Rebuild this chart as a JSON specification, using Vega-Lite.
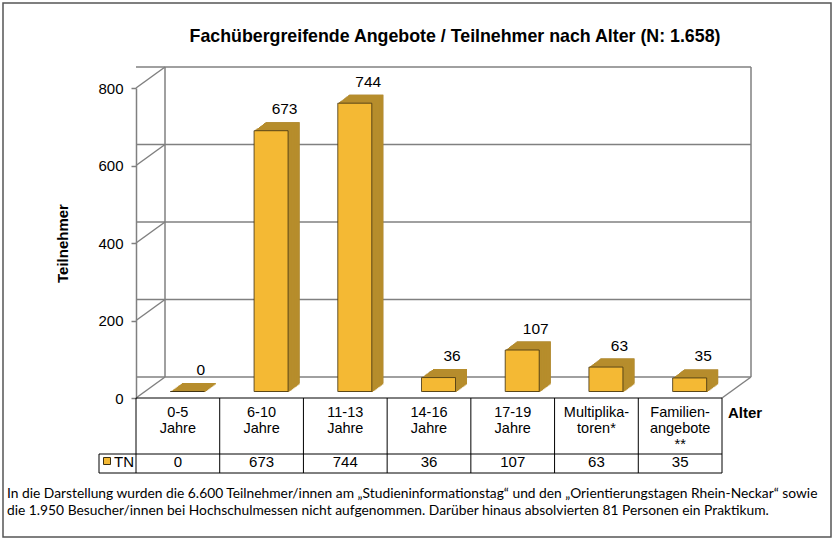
{
  "$schema": "https://vega.github.io/schema/vega-lite/v6.json",
  "width": 586,
  "height": 310,
  "autosize": {"type": "none"},
  "padding": {"left": 136, "top": 88, "right": 112, "bottom": 142},
  "background": "white",
  "config": {"view": {"stroke": null}, "font": "Liberation Sans"},
  "resolve": {"scale": {"x": "independent"}},
  "layer": [
    {
      "data": {"values": [{"deko": 1}]},
      "layer": [
        {
          "mark": {"type": "rect", "fill": null, "stroke": "#555555", "strokeWidth": 1.5, "xOffset": -133, "x2Offset": 109, "yOffset": -85, "y2Offset": 139},
          "encoding": {
            "x": {"datum": 0, "type": "quantitative", "scale": {"domain": [0, 7], "nice": false, "zero": false}, "axis": null},
            "x2": {"datum": 7},
            "y": {"datum": 800, "type": "quantitative"},
            "y2": {"datum": 0}
          }
        },
        {
          "mark": {"type": "text", "text": "Fachübergreifende Angebote / Teilnehmer nach Alter (N: 1.658)", "align": "center", "baseline": "middle", "fontSize": 17.8, "fontWeight": "bold", "color": "black", "xOffset": 26, "yOffset": -51},
          "encoding": {
            "x": {"datum": 3.5, "type": "quantitative"},
            "y": {"datum": 800, "type": "quantitative"}
          }
        },
        {
          "data": {"values": [{"v": 0}, {"v": 200}, {"v": 400}, {"v": 600}, {"v": 800}]},
          "mark": {"type": "rule", "color": "#808080", "strokeWidth": 1.5, "xOffset": 29, "x2Offset": 29, "yOffset": -21},
          "encoding": {"y": {"field": "v", "type": "quantitative", "title": "Teilnehmer"}}
        },
        {
          "data": {"values": [{"v": 0}, {"v": 200}, {"v": 400}, {"v": 600}, {"v": 800}]},
          "mark": {"type": "rule", "color": "#808080", "strokeWidth": 1.5, "x2Offset": 29, "y2Offset": -21},
          "encoding": {
            "x": {"datum": 0, "type": "quantitative"},
            "x2": {"datum": 0},
            "y": {"field": "v", "type": "quantitative", "title": "Teilnehmer"},
            "y2": {"field": "v"}
          }
        },
        {
          "mark": {"type": "rule", "color": "#808080", "strokeWidth": 1.5, "xOffset": 29, "yOffset": -21, "y2Offset": -21},
          "encoding": {
            "x": {"datum": 0, "type": "quantitative"},
            "y": {"datum": 0, "type": "quantitative"},
            "y2": {"datum": 800}
          }
        },
        {
          "mark": {"type": "rule", "color": "#808080", "strokeWidth": 1.5, "xOffset": 29, "yOffset": -21, "y2Offset": -21},
          "encoding": {
            "x": {"datum": 7, "type": "quantitative"},
            "y": {"datum": 0, "type": "quantitative"},
            "y2": {"datum": 800}
          }
        },
        {
          "mark": {"type": "rule", "color": "#808080", "strokeWidth": 1.5, "x2Offset": 29, "y2Offset": -21},
          "encoding": {
            "x": {"datum": 7, "type": "quantitative"},
            "x2": {"datum": 7},
            "y": {"datum": 0, "type": "quantitative"},
            "y2": {"datum": 0}
          }
        },
        {
          "mark": {"type": "rule", "color": "black", "strokeWidth": 1},
          "encoding": {"y": {"datum": 0, "type": "quantitative"}}
        },
        {
          "mark": {"type": "rule", "color": "black", "strokeWidth": 1, "xOffset": -37, "yOffset": 56},
          "encoding": {
            "x": {"datum": 0, "type": "quantitative"},
            "x2": {"datum": 7},
            "y": {"datum": 0, "type": "quantitative"}
          }
        },
        {
          "mark": {"type": "rule", "color": "black", "strokeWidth": 1, "xOffset": -37, "yOffset": 75},
          "encoding": {
            "x": {"datum": 0, "type": "quantitative"},
            "x2": {"datum": 7},
            "y": {"datum": 0, "type": "quantitative"}
          }
        },
        {
          "mark": {"type": "rule", "color": "black", "strokeWidth": 1, "xOffset": -37, "yOffset": 56, "y2Offset": 75},
          "encoding": {
            "x": {"datum": 0, "type": "quantitative"},
            "y": {"datum": 0, "type": "quantitative"},
            "y2": {"datum": 0}
          }
        },
        {
          "mark": {"type": "rule", "color": "black", "strokeWidth": 1, "y2Offset": 75},
          "encoding": {
            "x": {"datum": 7, "type": "quantitative"},
            "y": {"datum": 0, "type": "quantitative"},
            "y2": {"datum": 0}
          }
        },
        {
          "mark": {"type": "square", "size": 49, "filled": true, "fill": "#F4B934", "stroke": "#3d3010", "strokeWidth": 1, "opacity": 1, "xOffset": -29, "yOffset": 63},
          "encoding": {
            "x": {"datum": 0, "type": "quantitative"},
            "y": {"datum": 0, "type": "quantitative"}
          }
        },
        {
          "mark": {"type": "text", "text": "TN", "align": "left", "baseline": "middle", "fontSize": 15, "color": "black", "xOffset": -22, "yOffset": 64},
          "encoding": {
            "x": {"datum": 0, "type": "quantitative"},
            "y": {"datum": 0, "type": "quantitative"}
          }
        },
        {
          "mark": {"type": "text", "text": "Alter", "align": "left", "baseline": "middle", "fontSize": 15, "fontWeight": "bold", "color": "black", "xOffset": 6, "yOffset": 15},
          "encoding": {
            "x": {"datum": 7, "type": "quantitative"},
            "y": {"datum": 0, "type": "quantitative"}
          }
        },
        {
          "mark": {"type": "text", "text": "In die Darstellung wurden die 6.600 Teilnehmer/innen am „Studieninformationstag“ und den „Orientierungstagen Rhein-Neckar“ sowie\ndie 1.950 Besucher/innen bei Hochschulmessen nicht aufgenommen.  Darüber hinaus absolvierten 81 Personen ein Praktikum.", "lineBreak": "\n", "lineHeight": 17, "align": "left", "baseline": "top", "font": "Lato", "fontSize": 13.8, "color": "black", "xOffset": -129, "yOffset": 89},
          "encoding": {
            "x": {"datum": 0, "type": "quantitative"},
            "y": {"datum": 0, "type": "quantitative"}
          }
        }
      ]
    },
    {
      "data": {"values": [
        {"cat": "0-5\nJahre", "tn": 0},
        {"cat": "6-10\nJahre", "tn": 673},
        {"cat": "11-13\nJahre", "tn": 744},
        {"cat": "14-16\nJahre", "tn": 36},
        {"cat": "17-19\nJahre", "tn": 107},
        {"cat": "Multiplika-\ntoren*", "tn": 63},
        {"cat": "Familien-\nangebote\n**", "tn": 35}
      ]},
      "encoding": {
        "x": {"field": "cat", "type": "nominal", "sort": null, "scale": {"paddingInner": 0, "paddingOuter": 0}, "axis": null},
        "y": {"field": "tn", "type": "quantitative", "scale": {"domain": [0, 800], "nice": false},
          "axis": {"values": [0, 200, 400, 600, 800], "grid": false, "domainColor": "#808080", "domainWidth": 1.5, "tickColor": "#808080", "tickWidth": 1.5, "tickSize": 5, "labelFontSize": 15, "labelColor": "black", "labelFont": "Liberation Sans", "labelPadding": 8, "title": "Teilnehmer", "titleFont": "Liberation Sans", "titleFontSize": 15, "titleFontWeight": "bold", "titleColor": "black", "titlePadding": 27}},
        "y2": {"datum": 0}
      },
      "layer": [
        {"mark": {"type": "bar", "width": 34, "color": "#9A7524", "xOffset": 21, "yOffset": -15, "y2Offset": -15}},
        {"mark": {"type": "bar", "width": 34, "color": "#9A7524", "xOffset": 19.7, "yOffset": -14.1, "y2Offset": -14.1}},
        {"mark": {"type": "bar", "width": 34, "color": "#9A7524", "xOffset": 18.4, "yOffset": -13.1, "y2Offset": -13.1}},
        {"mark": {"type": "bar", "width": 34, "color": "#9A7524", "xOffset": 17.2, "yOffset": -12.2, "y2Offset": -12.2}},
        {"mark": {"type": "bar", "width": 34, "color": "#9A7524", "xOffset": 15.9, "yOffset": -11.2, "y2Offset": -11.2}},
        {"mark": {"type": "bar", "width": 34, "color": "#9A7524", "xOffset": 14.6, "yOffset": -10.3, "y2Offset": -10.3}},
        {"mark": {"type": "bar", "width": 34, "color": "#9A7524", "xOffset": 13.3, "yOffset": -9.3, "y2Offset": -9.3}},
        {"mark": {"type": "bar", "width": 34, "color": "#9A7524", "xOffset": 12.1, "yOffset": -8.4, "y2Offset": -8.4}},
        {"mark": {"type": "bar", "width": 34, "color": "#9A7524", "xOffset": 10.8, "yOffset": -7.4, "y2Offset": -7.4}},
        {"mark": {"type": "bar", "width": 34, "color": "#B68D2C", "xOffset": 21, "yOffset": -15, "y2Offset": -13.5}, "encoding": {"y2": {"field": "tn"}}},
        {"mark": {"type": "bar", "width": 34, "color": "#B68D2C", "xOffset": 19.7, "yOffset": -14.1, "y2Offset": -12.6}, "encoding": {"y2": {"field": "tn"}}},
        {"mark": {"type": "bar", "width": 34, "color": "#B68D2C", "xOffset": 18.4, "yOffset": -13.1, "y2Offset": -11.6}, "encoding": {"y2": {"field": "tn"}}},
        {"mark": {"type": "bar", "width": 34, "color": "#B68D2C", "xOffset": 17.2, "yOffset": -12.2, "y2Offset": -10.7}, "encoding": {"y2": {"field": "tn"}}},
        {"mark": {"type": "bar", "width": 34, "color": "#B68D2C", "xOffset": 15.9, "yOffset": -11.2, "y2Offset": -9.7}, "encoding": {"y2": {"field": "tn"}}},
        {"mark": {"type": "bar", "width": 34, "color": "#B68D2C", "xOffset": 14.6, "yOffset": -10.3, "y2Offset": -8.8}, "encoding": {"y2": {"field": "tn"}}},
        {"mark": {"type": "bar", "width": 34, "color": "#B68D2C", "xOffset": 13.3, "yOffset": -9.3, "y2Offset": -7.8}, "encoding": {"y2": {"field": "tn"}}},
        {"mark": {"type": "bar", "width": 34, "color": "#B68D2C", "xOffset": 12.1, "yOffset": -8.4, "y2Offset": -6.9}, "encoding": {"y2": {"field": "tn"}}},
        {"mark": {"type": "bar", "width": 34, "color": "#B68D2C", "xOffset": 10.8, "yOffset": -7.4, "y2Offset": -5.9}, "encoding": {"y2": {"field": "tn"}}},
        {"mark": {"type": "bar", "width": 34, "color": "#F4B934", "stroke": "#3d3010", "strokeWidth": 0.8, "xOffset": 9.5, "yOffset": -6.5, "y2Offset": -6.5}},
        {
          "mark": {"type": "text", "fontSize": 15.5, "color": "black", "baseline": "alphabetic", "xOffset": 23, "yOffset": -23},
          "encoding": {"text": {"field": "tn", "type": "quantitative"}}
        },
        {
          "mark": {"type": "text", "fontSize": 14.5, "color": "black", "baseline": "top", "lineBreak": "\n", "lineHeight": 16, "yOffset": 8},
          "encoding": {"text": {"field": "cat"}, "y": {"datum": 0}}
        },
        {
          "mark": {"type": "text", "fontSize": 15, "color": "black", "baseline": "middle", "yOffset": 64},
          "encoding": {"text": {"field": "tn", "type": "quantitative"}, "y": {"datum": 0}}
        },
        {
          "mark": {"type": "rule", "color": "black", "strokeWidth": 1, "y2Offset": 75},
          "encoding": {"x": {"field": "cat", "type": "nominal", "sort": null, "bandPosition": 0}, "y": {"datum": 0}, "y2": {"datum": 0}}
        }
      ]
    }
  ]
}
